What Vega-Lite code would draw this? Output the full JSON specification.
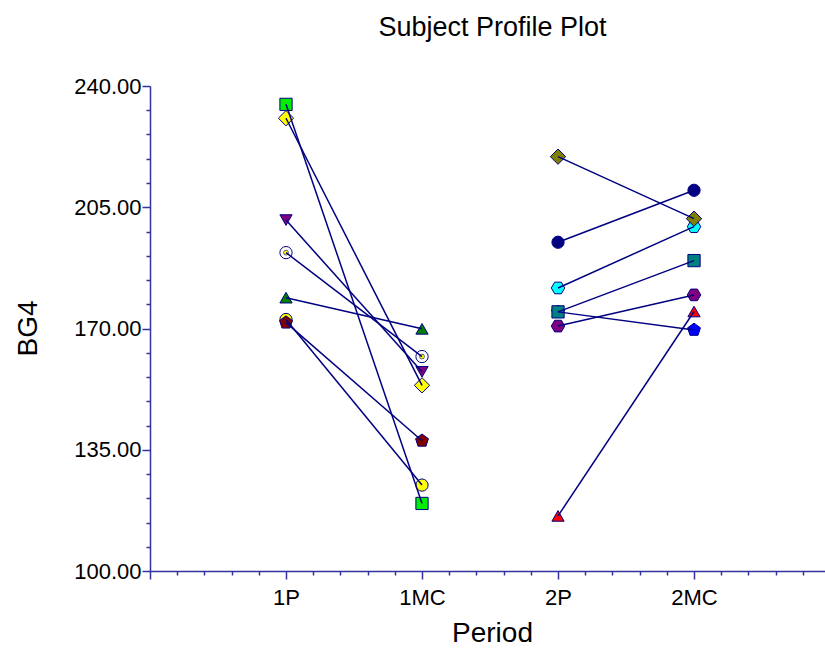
{
  "$schema": "https://vega.github.io/schema/vega-lite/v6.json",
  "autosize": {"type": "none"},
  "padding": {"left": 150, "top": 86, "right": 0, "bottom": 82},
  "width": 675,
  "height": 485,
  "background": "white",
  "title": {
    "text": "Subject Profile Plot",
    "font": "Liberation Sans",
    "fontSize": 27,
    "fontWeight": "normal",
    "color": "black",
    "anchor": "middle",
    "frame": "group",
    "baseline": "alphabetic",
    "offset": 12,
    "dx": 5
  },
  "config": {
    "view": {"stroke": null},
    "axis": {
      "labelFont": "Liberation Sans",
      "titleFont": "Liberation Sans",
      "labelColor": "black",
      "titleColor": "black",
      "titleFontWeight": "normal",
      "domainColor": "#3232a0",
      "tickColor": "#3232a0",
      "domainWidth": 1.5,
      "tickWidth": 1.5,
      "grid": false
    }
  },
  "data": {
    "values": [
      {"subject": "1", "period": "1P", "BG4": 234.7},
      {"subject": "1", "period": "1MC", "BG4": 119.5},
      {"subject": "2", "period": "1P", "BG4": 230.7},
      {"subject": "2", "period": "1MC", "BG4": 153.6},
      {"subject": "3", "period": "1P", "BG4": 201.3},
      {"subject": "3", "period": "1MC", "BG4": 157.5},
      {"subject": "4", "period": "1P", "BG4": 191.9},
      {"subject": "4", "period": "1MC", "BG4": 161.9},
      {"subject": "5", "period": "1P", "BG4": 178.9},
      {"subject": "5", "period": "1MC", "BG4": 169.9},
      {"subject": "6", "period": "1P", "BG4": 172.6},
      {"subject": "6", "period": "1MC", "BG4": 124.8},
      {"subject": "7", "period": "1P", "BG4": 171.7},
      {"subject": "7", "period": "1MC", "BG4": 137.6},
      {"subject": "8", "period": "2P", "BG4": 194.9},
      {"subject": "8", "period": "2MC", "BG4": 209.9},
      {"subject": "9", "period": "2P", "BG4": 181.7},
      {"subject": "9", "period": "2MC", "BG4": 199.4},
      {"subject": "10", "period": "2P", "BG4": 219.6},
      {"subject": "10", "period": "2MC", "BG4": 201.7},
      {"subject": "11", "period": "2P", "BG4": 174.8},
      {"subject": "11", "period": "2MC", "BG4": 169.6},
      {"subject": "12", "period": "2P", "BG4": 174.8},
      {"subject": "12", "period": "2MC", "BG4": 189.6},
      {"subject": "13", "period": "2P", "BG4": 170.7},
      {"subject": "13", "period": "2MC", "BG4": 179.7},
      {"subject": "14", "period": "2P", "BG4": 115.9},
      {"subject": "14", "period": "2MC", "BG4": 174.9}
    ]
  },
  "transform": [
    {"calculate": "indexof(['1P', '1MC', '2P', '2MC'], datum.period) + 1", "as": "periodIndex"}
  ],
  "encoding": {
    "x": {
      "field": "periodIndex",
      "type": "quantitative",
      "scale": {"domain": [0, 4.963], "nice": false, "zero": false},
      "axis": {
        "title": "Period",
        "titleFontSize": 28,
        "titleX": 342,
        "titleY": 62,
        "titleBaseline": "middle",
        "labelFontSize": 22,
        "labelPadding": 8,
        "labelFlush": false,
        "labelOverlap": false,
        "values": [0, 0.2, 0.4, 0.6, 0.8, 1, 1.2, 1.4, 1.6, 1.8, 2, 2.2, 2.4, 2.6, 2.8, 3, 3.2, 3.4, 3.6, 3.8, 4, 4.2, 4.4, 4.6, 4.8],
        "labelExpr": "datum.value == 1 ? '1P' : datum.value == 2 ? '1MC' : datum.value == 3 ? '2P' : datum.value == 4 ? '2MC' : ''",
        "tickSize": {"condition": {"test": "datum.value == floor(datum.value)", "value": 8}, "value": 4}
      }
    },
    "y": {
      "field": "BG4",
      "type": "quantitative",
      "scale": {"domain": [100, 240], "nice": false, "zero": false},
      "axis": {
        "title": "BG4",
        "titleFontSize": 28,
        "titleAngle": -90,
        "titleX": -122,
        "titleY": 242,
        "titleAlign": "center",
        "titleBaseline": "middle",
        "labelFontSize": 22,
        "labelPadding": 1,
        "labelOverlap": false,
        "labelFlush": false,
        "values": [100, 107, 114, 121, 128, 135, 142, 149, 156, 163, 170, 177, 184, 191, 198, 205, 212, 219, 226, 233, 240],
        "labelExpr": "(datum.value - 100) % 35 == 0 ? format(datum.value, '.2f') : ''",
        "tickSize": {"condition": {"test": "(datum.value - 100) % 35 == 0", "value": 8}, "value": 4}
      }
    }
  },
  "layer": [
    {
      "mark": {"type": "point", "filled": true, "size": 150, "stroke": "#000080", "strokeWidth": 1, "opacity": 1},
      "encoding": {
        "shape": {
          "field": "subject",
          "type": "nominal",
          "legend": null,
          "scale": {
            "domain": ["1", "2", "3", "4", "5", "6", "7", "8", "9", "10", "11", "12", "13", "14"],
            "range": [
              "square",
              "M0,-1.25L1.25,0L0,1.25L-1.25,0Z",
              "triangle-down",
              "circle",
              "triangle-up",
              "circle",
              "M0,-1.1L1.05,-0.34L0.65,0.89L-0.65,0.89L-1.05,-0.34Z",
              "circle",
              "M-1.1,0L-0.55,-0.95L0.55,-0.95L1.1,0L0.55,0.95L-0.55,0.95Z",
              "M0,-1.25L1.25,0L0,1.25L-1.25,0Z",
              "M0,-1.1L1.05,-0.34L0.65,0.89L-0.65,0.89L-1.05,-0.34Z",
              "square",
              "M-1.1,0L-0.55,-0.95L0.55,-0.95L1.1,0L0.55,0.95L-0.55,0.95Z",
              "triangle-up"
            ]
          }
        },
        "fill": {
          "field": "subject",
          "type": "nominal",
          "legend": null,
          "scale": {
            "domain": ["1", "2", "3", "4", "5", "6", "7", "8", "9", "10", "11", "12", "13", "14"],
            "range": ["#00ee00", "#ffff00", "#800080", "#ffffff", "#008000", "#ffff00", "#800000", "#000080", "#00ffff", "#808000", "#0000ff", "#008080", "#800080", "#ff0000"]
          }
        }
      }
    },
    {
      "transform": [{"filter": "datum.subject == '4'"}],
      "mark": {"type": "point", "filled": true, "shape": "circle", "size": 24, "fill": "#ffff00", "stroke": "#000080", "strokeWidth": 0.6, "opacity": 1}
    },
    {
      "mark": {"type": "line", "color": "#000080", "strokeWidth": 1.5},
      "encoding": {
        "detail": {"field": "subject", "type": "nominal"}
      }
    }
  ]
}
